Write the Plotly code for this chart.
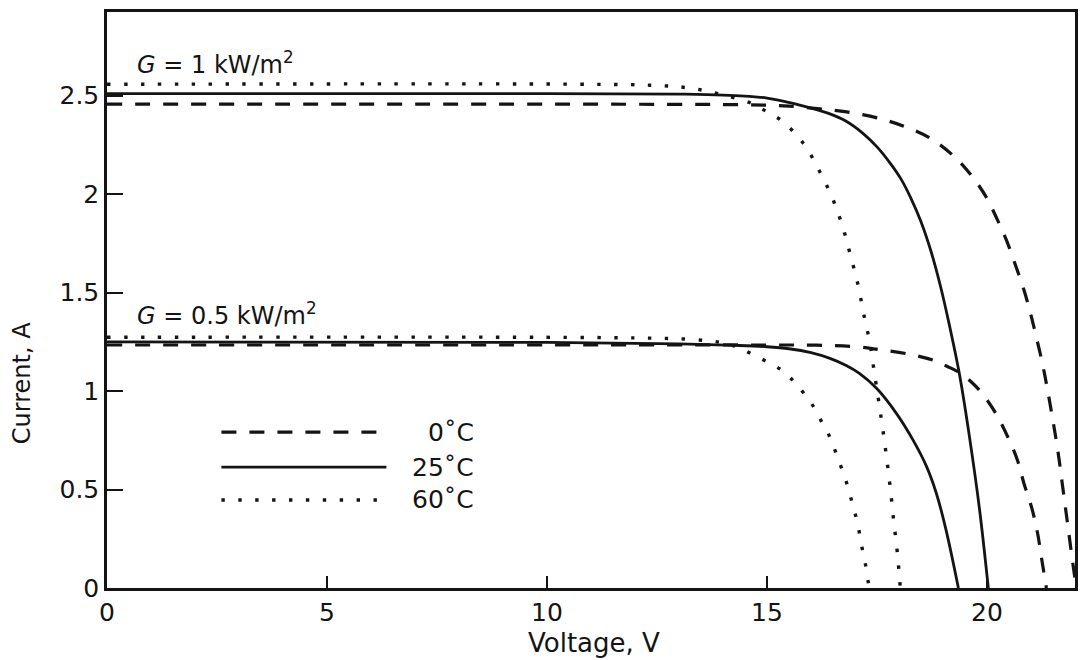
import plotly.graph_objects as go

# ---------------- data ----------------
# G = 1 kW/m2
g1_0c_v = [0, 10, 14, 15, 15.5, 16.2, 16.81, 17.56, 18.17, 18.7, 19.22, 19.64, 19.98, 20.24, 20.47,
           20.66, 20.84, 20.99, 21.11, 21.26, 21.37, 21.47, 21.56, 21.64, 21.71, 21.79, 21.86, 21.94, 22.03]
g1_0c_i = [2.457, 2.457, 2.455, 2.452, 2.447, 2.433, 2.418, 2.384, 2.34, 2.285, 2.198, 2.096, 1.986, 1.868, 1.75,
           1.631, 1.513, 1.394, 1.284, 1.14, 1.014, 0.887, 0.768, 0.65, 0.531, 0.396, 0.278, 0.142, 0.0]

g1_25c_v = [0, 10, 13, 14, 15, 15.7, 16.4, 16.8, 17.2, 17.5, 17.79, 18.05, 18.28, 18.5, 18.72, 18.94,
            19.15, 19.37, 19.6, 19.83, 20.03]
g1_25c_i = [2.51, 2.51, 2.508, 2.503, 2.488, 2.455, 2.41, 2.37, 2.305, 2.24, 2.16, 2.075, 1.975, 1.86, 1.715, 1.535,
            1.33, 1.09, 0.77, 0.40, 0.0]

g1_60c_v = [0, 11, 12.5, 13.2, 13.9, 14.66, 15.0, 15.34, 15.83, 16.19, 16.49, 16.72, 16.90, 17.07, 17.20,
            17.34, 17.44, 17.54, 17.64, 17.73, 17.81, 17.88, 17.96, 18.03]
g1_60c_i = [2.558, 2.558, 2.552, 2.54, 2.51, 2.46, 2.418, 2.372, 2.257, 2.118, 1.978, 1.834, 1.687, 1.538, 1.389,
            1.242, 1.093, 0.946, 0.793, 0.641, 0.492, 0.34, 0.184, 0.0]

# G = 0.5 kW/m2
g05_0c_v = [0, 10, 15, 16.13, 17.04, 17.56, 18.17, 18.77, 19.1, 19.4, 19.65, 19.86, 20.20, 20.47, 20.69,
            20.84, 21.02, 21.15, 21.24, 21.35]
g05_0c_i = [1.234, 1.234, 1.234, 1.233, 1.225, 1.21, 1.19, 1.157, 1.125, 1.09, 1.045, 0.996, 0.887, 0.768, 0.65,
            0.531, 0.404, 0.278, 0.151, 0.0]

g05_25c_v = [0, 10, 13, 14.3, 15.0, 15.5, 16.0, 16.43, 16.8, 17.1, 17.49, 17.94, 18.32, 18.62, 18.85, 19.07, 19.35]
g05_25c_i = [1.25, 1.247, 1.24, 1.232, 1.225, 1.215, 1.195, 1.166, 1.13, 1.09, 1.014, 0.887, 0.751, 0.62, 0.48,
             0.294, 0.0]

g05_60c_v = [0, 12, 13.3, 14.0, 14.35, 14.70, 15.04, 15.36, 15.62, 15.84, 16.06, 16.22, 16.39, 16.52, 16.64,
             16.76, 16.86, 16.95, 17.04, 17.11, 17.17, 17.24, 17.32]
g05_60c_i = [1.273, 1.27, 1.262, 1.245, 1.22, 1.183, 1.144, 1.102, 1.046, 0.988, 0.920, 0.853, 0.785, 0.714, 0.641,
             0.569, 0.494, 0.421, 0.345, 0.269, 0.193, 0.117, 0.0]

x_ticks = [0, 5, 10, 15, 20]
y_ticks = [0, 0.5, 1, 1.5, 2, 2.5]
y_tick_labels = ["0", "0.5", "1", "1.5", "2", "2.5"]

legend_labels = ["0˚C", "25˚C", "60˚C"]
irradiance_labels = ["<i>G</i> = 1 kW/m<sup>2</sup>", "<i>G</i> = 0.5 kW/m<sup>2</sup>"]

# ---------------- styles ----------------
INK = "#141414"
FONT = "DejaVu Sans, Liberation Sans, Arial, sans-serif"
styles = {
    "0": dict(color=INK, width=3.2, dash="15px,13px"),
    "25": dict(color=INK, width=2.8, dash="solid"),
    "60": dict(color=INK, width=3.4, dash="3.4px,13.5px"),
}

fig = go.Figure()
series = [
    (g1_0c_v, g1_0c_i, "0"), (g1_25c_v, g1_25c_i, "25"), (g1_60c_v, g1_60c_i, "60"),
    (g05_0c_v, g05_0c_i, "0"), (g05_25c_v, g05_25c_i, "25"), (g05_60c_v, g05_60c_i, "60"),
]
for v, i, k in series:
    fig.add_trace(go.Scatter(x=v, y=i, mode="lines", line=dict(shape="spline", smoothing=1.0, **styles[k]),
                             showlegend=False, hoverinfo="skip"))

# custom legend (long line keys with right-aligned labels)
leg_y = [0.792, 0.614, 0.447]
for lab, yy, k in zip(legend_labels, leg_y, ["0", "25", "60"]):
    fig.add_shape(type="line", xref="x", yref="y", x0=2.6, x1=6.35, y0=yy, y1=yy, line=styles[k])
    fig.add_annotation(x=8.38, y=yy, xref="x", yref="y", text=lab, showarrow=False,
                       xanchor="right", yanchor="middle", font=dict(size=25, color=INK, family=FONT))

fig.add_annotation(x=0.63, y=2.665, xref="x", yref="y", text=irradiance_labels[0], showarrow=False,
                   xanchor="left", yanchor="middle", font=dict(size=24, color=INK, family=FONT))
fig.add_annotation(x=0.63, y=1.39, xref="x", yref="y", text=irradiance_labels[1], showarrow=False,
                   xanchor="left", yanchor="middle", font=dict(size=24, color=INK, family=FONT))

# axis titles
fig.add_annotation(x=-0.0875, y=0.356, xref="paper", yref="paper", text="Current, A", textangle=-90,
                   showarrow=False, xanchor="center", yanchor="middle", font=dict(size=24, color=INK, family=FONT))
fig.add_annotation(x=0.5026, y=-0.095, xref="paper", yref="paper", text="Voltage, V",
                   showarrow=False, xanchor="center", yanchor="middle", font=dict(size=26, color=INK, family=FONT))

fig.update_layout(
    width=1080, height=660,
    margin=dict(l=107, r=2, t=12, b=72),
    paper_bgcolor="white", plot_bgcolor="white",
    font=dict(family=FONT, color=INK),
    showlegend=False,
)
fig.update_xaxes(range=[0, 22], tickvals=x_ticks, ticktext=[str(t) for t in x_ticks],
                 ticks="inside", ticklen=12, tickwidth=2, tickcolor=INK,
                 showline=True, linecolor=INK, linewidth=2.5, mirror=True,
                 showgrid=False, zeroline=False, tickfont=dict(size=25, color=INK, family=FONT))
fig.update_yaxes(range=[0, 2.925], tickvals=y_ticks, ticktext=y_tick_labels,
                 ticks="inside", ticklen=16, tickwidth=2, tickcolor=INK,
                 showline=True, linecolor=INK, linewidth=2.5, mirror=True,
                 showgrid=False, zeroline=False, tickfont=dict(size=25, color=INK, family=FONT))

fig.write_html("out.html")
